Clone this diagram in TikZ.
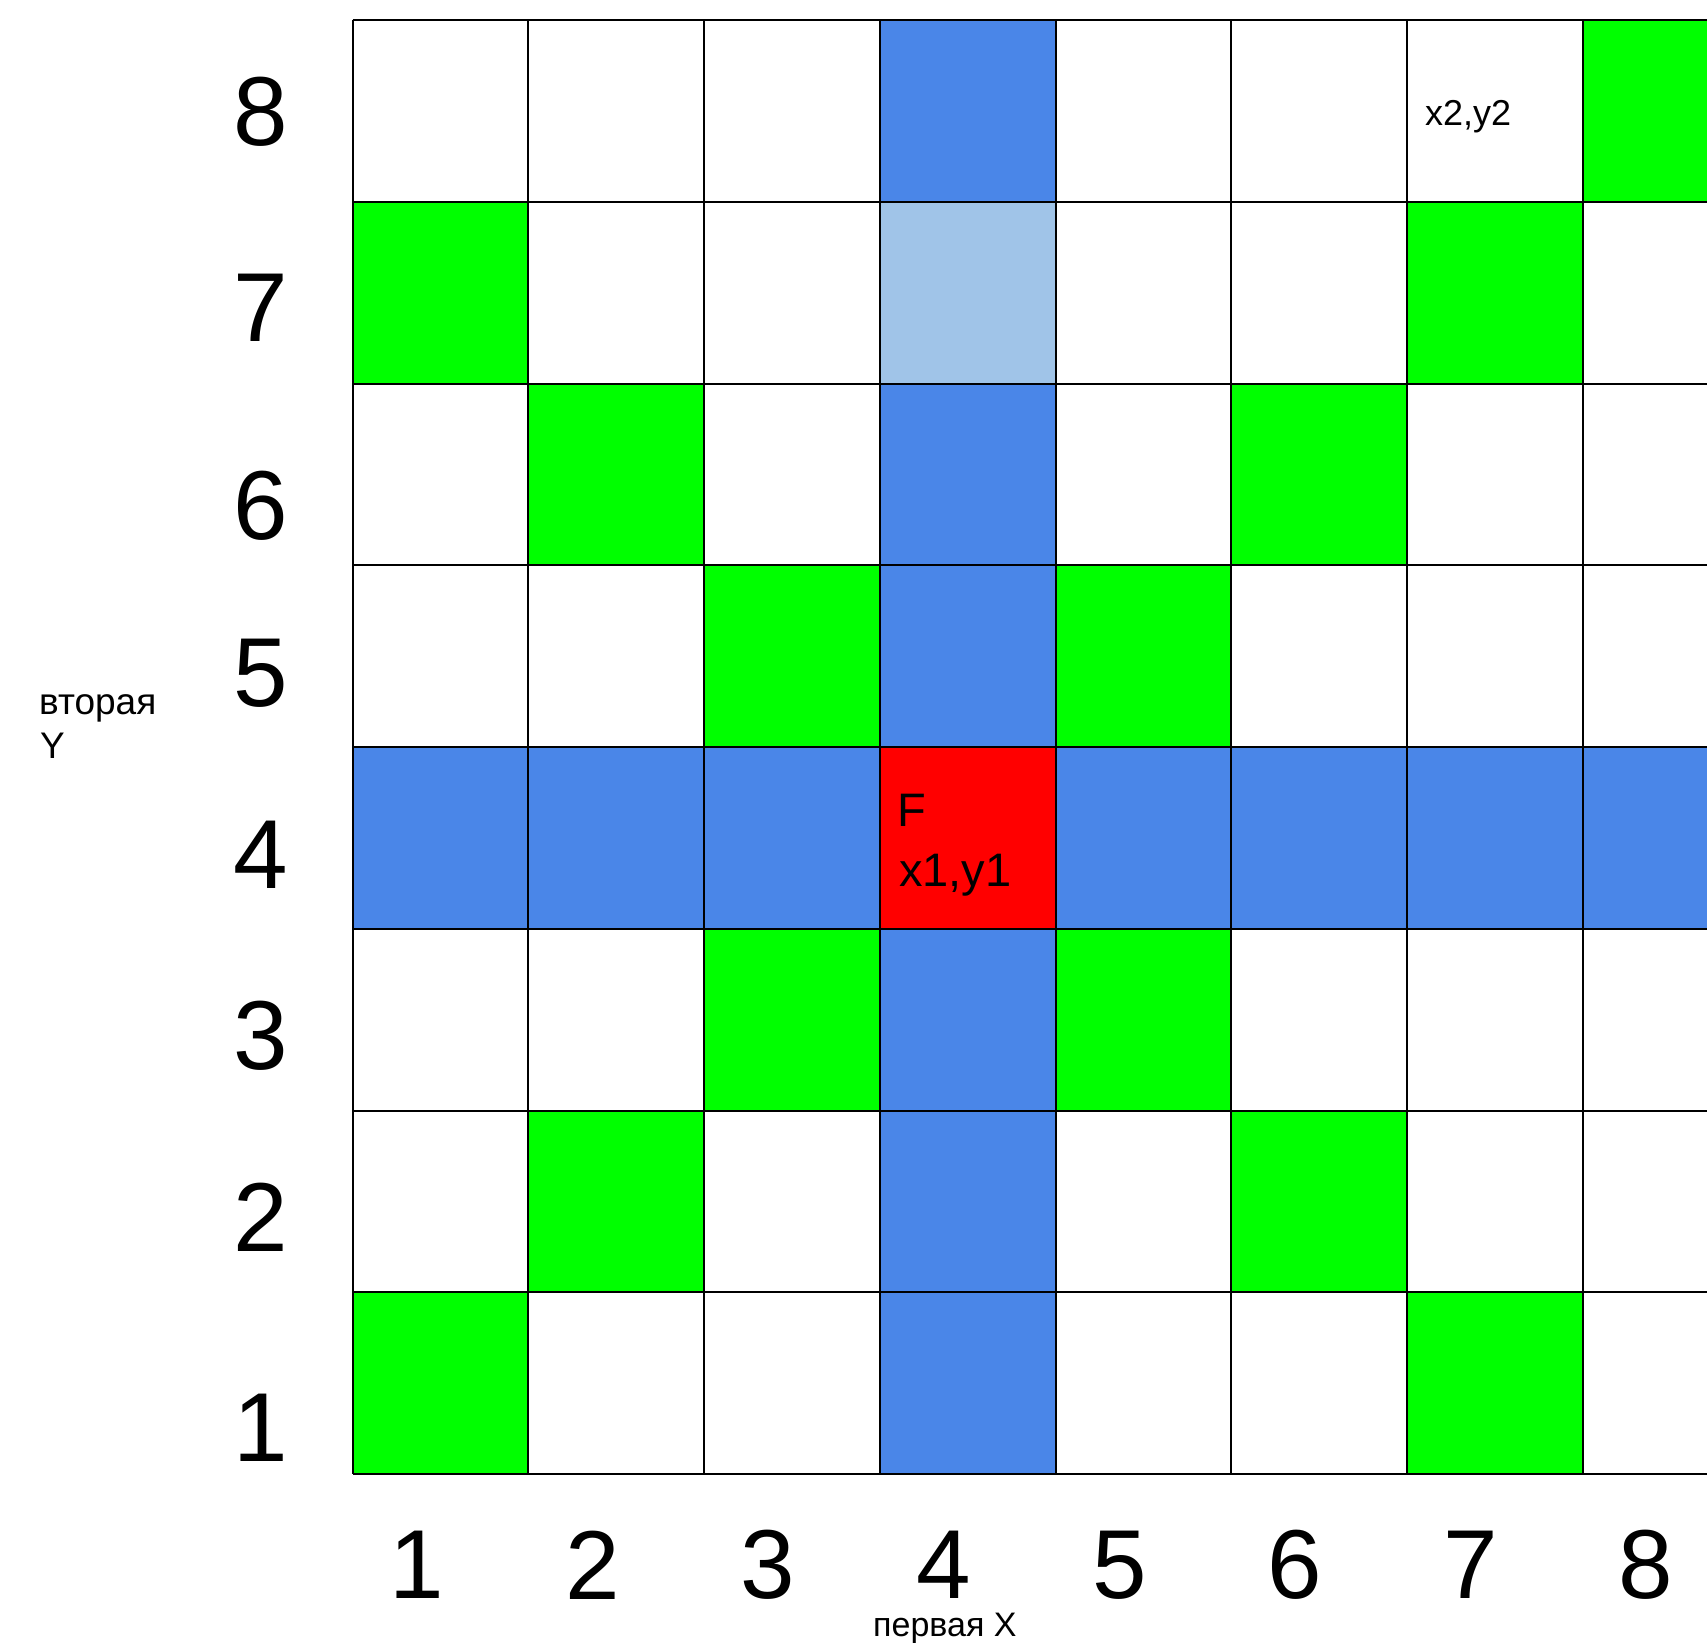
\documentclass[tikz,border=0pt]{standalone}
\usepackage{fontspec}
\setmainfont{Liberation Sans}
\definecolor{gblue}{HTML}{4A86E8}
\definecolor{lblue}{HTML}{A0C4E8}
\definecolor{ggreen}{HTML}{00FF00}
\definecolor{gred}{HTML}{FF0000}
\newcommand\cellfill[3]{\fill[#3] ({352.7+(#1-1)*175.7},{20+(8-#2)*181.75}) rectangle ++(175.7,181.75);}
\begin{document}
\begin{tikzpicture}[x=1pt,y=-1pt,
  gridline/.style={line width=2pt,black},
  bignum/.style={inner sep=0pt,font=\fontsize{98}{110}\selectfont},
  lbl/.style={inner sep=0pt,anchor=base west}]
\useasboundingbox (0,0) rectangle (1707,1642);
\clip (0,0) rectangle (1707,1642);
\fill[white] (0,0) rectangle (1707,1642);
% vertical blue column (x=4)
\foreach \r in {1,2,3,5,6,8} {\cellfill{4}{\r}{gblue}}
\cellfill{4}{7}{lblue}
% horizontal blue row (y=4)
\foreach \c in {1,2,3,5,6,7,8} {\cellfill{\c}{4}{gblue}}
\cellfill{4}{4}{gred}
% green diagonals
\cellfill{1}{1}{ggreen}
\cellfill{7}{1}{ggreen}
\cellfill{2}{2}{ggreen}
\cellfill{6}{2}{ggreen}
\cellfill{3}{3}{ggreen}
\cellfill{5}{3}{ggreen}
\cellfill{3}{5}{ggreen}
\cellfill{5}{5}{ggreen}
\cellfill{2}{6}{ggreen}
\cellfill{6}{6}{ggreen}
\cellfill{1}{7}{ggreen}
\cellfill{7}{7}{ggreen}
\cellfill{8}{8}{ggreen}
% grid lines
\foreach \i in {0,...,8} {
  \draw[gridline] ({352.7+\i*175.7},20) -- ({352.7+\i*175.7},1474);
  \draw[gridline] (352.7,{20+\i*181.75}) -- (1800,{20+\i*181.75});
}
% left numbers
\node[bignum] (y8) at (261,111.7) {8};
\node[bignum] (y7) at (261,308) {7};
\node[bignum] (y6) at (261,506) {6};
\node[bignum] (y5) at (261,673) {5};
\node[bignum] (y4) at (261,855) {4};
\node[bignum] (y3) at (261,1036) {3};
\node[bignum] (y2) at (261,1217) {2};
\node[bignum] (y1) at (261,1428) {1};
% bottom numbers
\foreach \c in {1,...,8} {
  \node[bignum] (x\c) at ({417+(\c-1)*175.6},1565) {\c};
}
% labels
\node[lbl,font=\fontsize{47}{56}\selectfont] (F) at (897,826.7) {F};
\node[lbl,font=\fontsize{47}{56}\selectfont] (p1) at (899,886.7) {x1,y1};
\node[lbl,font=\fontsize{36}{43}\selectfont] (p2) at (1425,125) {x2,y2};
\node[lbl,font=\fontsize{37}{44}\selectfont] (ylab1) at (39,714) {вторая};
\node[lbl,font=\fontsize{37}{44}\selectfont] (ylab2) at (40,758) {Y};
\node[lbl,font=\fontsize{34}{41}\selectfont] (xlab) at (873,1636) {первая X};
\end{tikzpicture}
\end{document}
